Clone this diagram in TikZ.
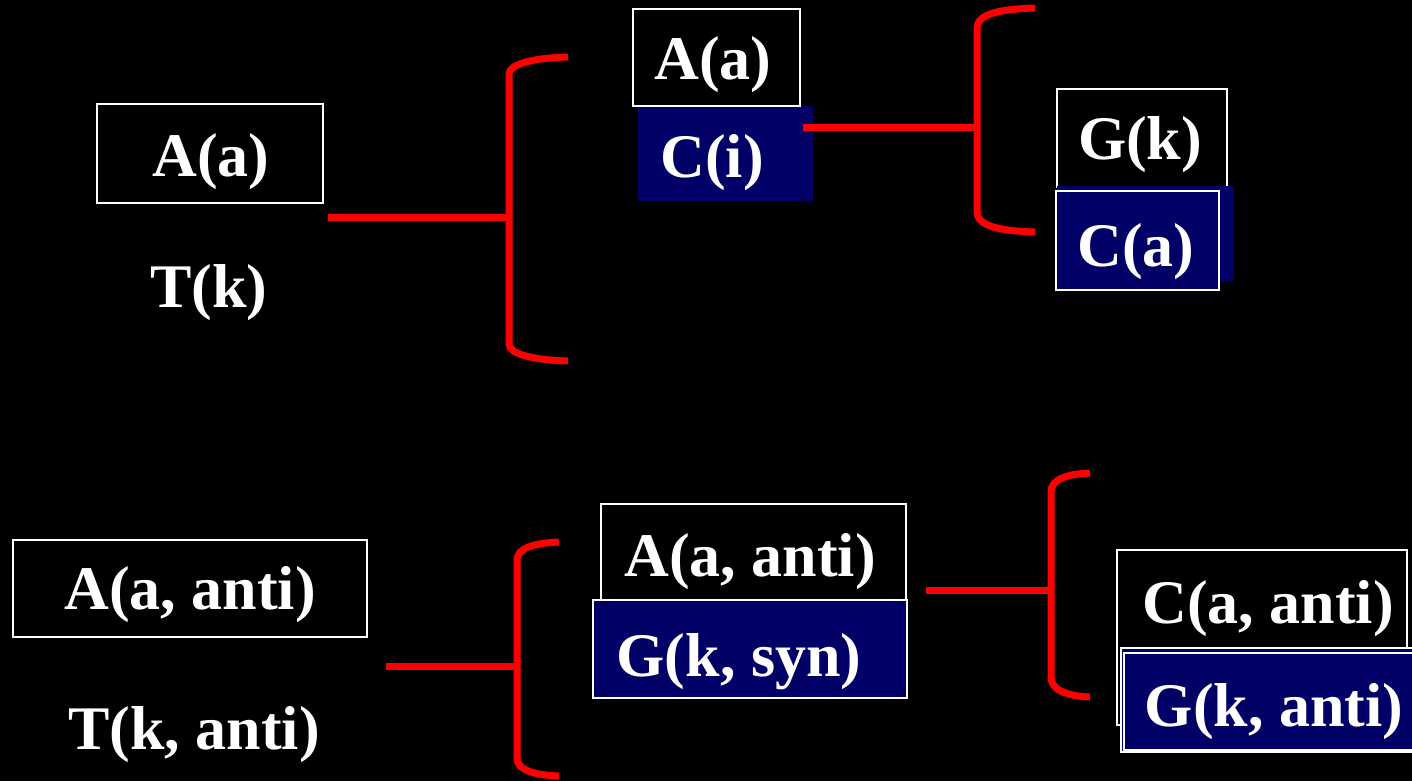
\documentclass[tikz,border=0pt]{standalone}
\usepackage{fontspec}
\setmainfont{Liberation Serif}
\definecolor{navy}{RGB}{0,0,102}
\definecolor{bred}{RGB}{255,0,0}
\begin{document}
\begin{tikzpicture}[x=1pt,y=-1pt,
  wbox/.style={draw=white, line width=2pt, inner sep=0pt, rectangle},
  nbox/.style={fill=navy, inner sep=0pt, rectangle},
  nwbox/.style={fill=navy, draw=white, line width=2pt, inner sep=0pt, rectangle},
  txt/.style={text=white, anchor=base, inner sep=0pt, font=\fontsize{62}{70}\selectfont\bfseries},
  redline/.style={draw=bred, line width=7pt, line join=round}]
\fill[black] (0,0) rectangle (1412,781);
\clip (0,0) rectangle (1412,781);

% ---- top row ----
\node[wbox, minimum width=226pt, minimum height=99pt] (tlA) at (210,153.5) {};
\node[txt] (tlAt) at (211,176) {A(a)};
\node[txt] (tlTt) at (209,307) {T(k)};

\node[nbox, minimum width=175pt, minimum height=95pt] (mC) at (725.5,153.5) {};
\node[wbox, minimum width=167pt, minimum height=97pt] (mA) at (716.5,57.5) {};
\node[txt] (mAt) at (713,80) {A(a)};
\node[txt] (mCt) at (712,177) {C(i)};

\node[wbox, minimum width=170pt, minimum height=98pt] (rG) at (1142,138) {};
\node[txt] (rGt) at (1140,159) {G(k)};
\node[nbox, minimum width=177pt, minimum height=95pt] (rCb) at (1145.5,233.5) {};
\node[nwbox, minimum width=163pt, minimum height=99pt] (rC) at (1137.5,240.5) {};
\node[txt] (rCt) at (1136,266) {C(a)};

% brackets top
\coordinate (s1) at (328,217);
\coordinate (b1s) at (509,217);
\coordinate (b1t) at (568,57);
\coordinate (b1b) at (568,361);
\draw[redline] (b1t) .. controls (533,58) and (509,64) .. (509,74) -- (509,344) .. controls (509,354) and (533,360) .. (b1b);
\draw[redline] (s1) -- (b1s);

\coordinate (s2) at (803,127);
\coordinate (b2s) at (977,127);
\coordinate (b2t) at (1035,8);
\coordinate (b2b) at (1035,232);
\draw[redline] (b2t) .. controls (1000,9) and (977,14) .. (977,28) -- (977,212) .. controls (977,226) and (1000,231) .. (b2b);
\draw[redline] (s2) -- (b2s);

% ---- bottom row ----
\node[wbox, minimum width=354pt, minimum height=97pt] (blA) at (190,588.5) {};
\node[txt] (blAt) at (190,609) {A(a, anti)};
\node[txt] (blTt) at (194,749) {T(k, anti)};

\node[wbox, minimum width=305pt, minimum height=96pt] (bmA) at (753.5,552) {};
\node[txt] (bmAt) at (750,576) {A(a, anti)};
\node[nwbox, minimum width=314pt, minimum height=98pt] (bmG) at (750,649) {};
\node[txt] (bmGt) at (739,676) {G(k, syn)};

\node[wbox, minimum width=290pt, minimum height=175pt] (brC) at (1262,637.5) {};
\node[txt] (brCt) at (1268,623) {C(a, anti)};
\node[nwbox, minimum width=300pt, minimum height=104pt] (brG) at (1271,700) {};
\node[wbox, line width=1.5pt, minimum width=300pt, minimum height=97pt] (brGi) at (1274,701.5) {};
\node[txt] (brGt) at (1274,726) {G(k, anti)};

\coordinate (s3) at (386,666);
\coordinate (b3s) at (517,666);
\coordinate (b3t) at (559,542);
\coordinate (b3b) at (559,776);
\draw[redline] (b3t) .. controls (534,543) and (517,548) .. (517,560) -- (517,758) .. controls (517,770) and (534,775) .. (b3b);
\draw[redline] (s3) -- (b3s);

\coordinate (s4) at (926,590);
\coordinate (b4s) at (1051,590);
\coordinate (b4t) at (1090,473);
\coordinate (b4b) at (1090,697);
\draw[redline] (b4t) .. controls (1067,474) and (1051,479) .. (1051,492) -- (1051,677) .. controls (1051,690) and (1067,696) .. (b4b);
\draw[redline] (s4) -- (b4s);
\end{tikzpicture}
\end{document}
